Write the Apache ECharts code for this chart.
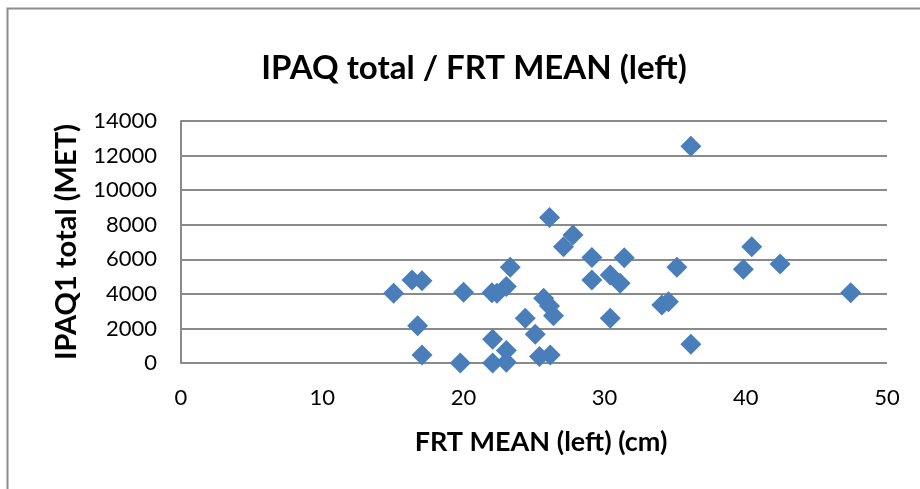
<!DOCTYPE html>
<html>
<head>
<meta charset="utf-8">
<script src="https://cdn.jsdelivr.net/npm/echarts@6/dist/echarts.min.js"></script>
<style>
html,body{margin:0;padding:0;background:#fff;}
#c{width:920px;height:489px;}
</style>
</head>
<body>
<div id="c"></div>
<script>
// Data
const frtMean = [15.06, 16.36, 17.07, 20.01, 22.02, 22.38, 23.04, 23.32, 16.76, 17.07,
  19.78, 22.07, 22.07, 23.04, 23.04, 24.38, 25.09, 25.39, 26.15, 25.68,
  26.10, 26.38, 26.10, 27.09, 27.76, 29.10, 31.39, 29.10, 30.40, 31.10,
  30.40, 34.05, 34.52, 35.12, 36.11, 36.11, 39.83, 40.42, 42.43, 47.43];
const ipaqTotal = [4040, 4800, 4760, 4090, 4070, 4040, 4420, 5540, 2150, 470,
  0, 1380, 0, 720, 50, 2590, 1670, 380, 470, 3750,
  3300, 2730, 8420, 6730, 7400, 6110, 6090, 4800, 5090, 4610,
  2590, 3360, 3550, 5540, 12540, 1090, 5420, 6730, 5730, 4070];
const xTicks = [0, 10, 20, 30, 40, 50];
const yTicks = [0, 2000, 4000, 6000, 8000, 10000, 12000, 14000];
const titleText = 'IPAQ total / FRT MEAN (left)';
const xName = 'FRT MEAN (left) (cm)';
const yName = 'IPAQ1 total (MET)';

const points = frtMean.map((x, i) => [x, ipaqTotal[i]]);
const FONT = 'Lato';

const chart = echarts.init(document.getElementById('c'), null, {renderer: 'canvas'});
chart.setOption({
  animation: false,
  backgroundColor: '#fff',
  title: {
    text: titleText,
    left: 469, top: 47, textAlign: 'center',
    textStyle: {fontFamily: FONT, fontWeight: 'bold', fontSize: 33, color: '#000'}
  },
  graphic: [{
    type: 'rect', silent: true,
    shape: {x: 7.5, y: 8.5, width: 1000, height: 1000},
    style: {fill: 'none', stroke: '#8c8c8c', lineWidth: 2}
  }],
  grid: {left: 181, top: 121, right: 33, bottom: 126},
  xAxis: {
    type: 'value', min: xTicks[0], max: xTicks[xTicks.length - 1], interval: 10,
    name: xName, nameLocation: 'middle', nameGap: 66,
    nameTextStyle: {fontFamily: FONT, fontWeight: 'bold', fontSize: 27, color: '#000',
      padding: [0, 0, 0, 14]},
    axisLine: {show: false},
    axisTick: {show: false},
    splitLine: {show: false},
    axisLabel: {fontFamily: FONT, fontSize: 22, color: '#000', margin: 24,
      formatter: v => String(v)}
  },
  yAxis: {
    type: 'value', min: yTicks[0], max: yTicks[yTicks.length - 1], interval: 2000,
    name: yName, nameLocation: 'middle', nameGap: 100,
    nameTextStyle: {fontFamily: FONT, fontWeight: 'bold', fontSize: 29, color: '#000'},
    axisLine: {show: true, lineStyle: {color: '#8a8a8a', width: 2}},
    axisTick: {show: false},
    splitLine: {show: true, lineStyle: {color: '#8a8a8a', width: 2}},
    axisLabel: {fontFamily: FONT, fontSize: 22, color: '#000', margin: 24,
      formatter: v => String(v)}
  },
  series: [{
    type: 'scatter',
    data: points,
    symbol: 'diamond',
    symbolSize: [21, 21],
    itemStyle: {color: '#4a7ebb', opacity: 1}
  }]
});
</script>
</body>
</html>
